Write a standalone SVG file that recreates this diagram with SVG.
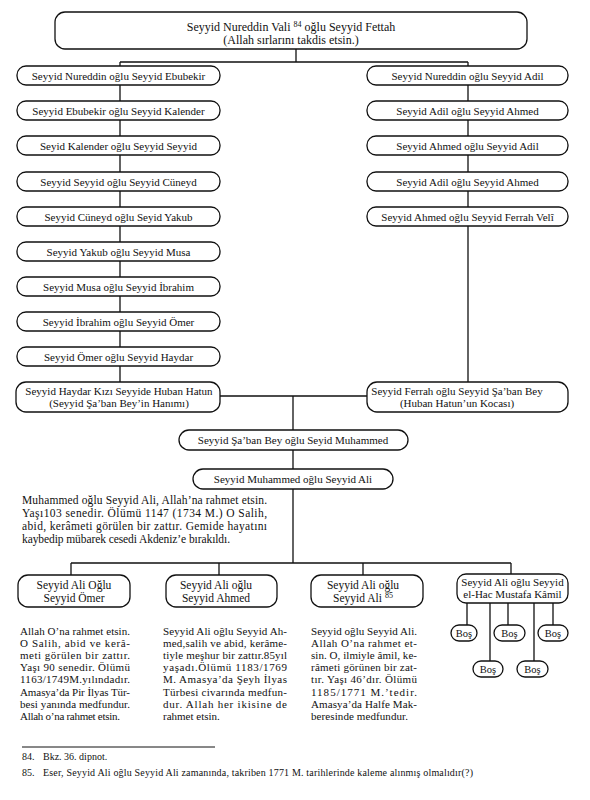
<svg xmlns="http://www.w3.org/2000/svg" width="590" height="800" viewBox="0 0 590 800">
<style>
.bx{fill:#fff;stroke:#111;stroke-width:1.3}
.ln{fill:none;stroke:#111;stroke-width:1.3}
text{font-family:"Liberation Serif","Times New Roman",serif;fill:#111}
.n{font-size:11px;text-anchor:middle}
.b{font-size:12px;text-anchor:middle}
.c{font-size:11.5px;text-anchor:middle}
.s{font-size:10.5px;text-anchor:middle}
.p{font-size:11.5px}
.q{font-size:11px}
.f{font-size:10px}
.sup{font-size:8px}
</style>
<rect width="590" height="800" fill="#fff"/>
<g id="connectors">
<path class="ln" d="M296 49V62M120 62H468M120 62V382M468 62V382M220 396H367M293 396V563M71 563H511M71 563V575M219 563V575M363 563V575M511 563V574"/>
<path class="ln" d="M467 603V625M490 603V661M508 603V625M534 603V661M553 603V625"/>
</g>
<g id="root"><rect class="bx" x="55" y="12" width="472" height="37" rx="10"/>
<text class="b" x="291" y="31">Seyyid Nureddin Vali <tspan class="sup" dy="-4">84</tspan><tspan dy="4"> oğlu Seyyid Fettah</tspan></text>
<text class="b" x="291" y="44">(Allah sırlarını takdis etsin.)</text></g>
<g id="L1"><rect class="bx" x="17" y="66" width="203" height="19" rx="9"/><text class="n" x="118.5" y="79.5">Seyyid Nureddin oğlu Seyyid Ebubekir</text></g>
<g id="L2"><rect class="bx" x="17" y="101" width="203" height="19" rx="9"/><text class="n" x="118.5" y="114.5">Seyyid Ebubekir oğlu  Seyyid  Kalender</text></g>
<g id="L3"><rect class="bx" x="17" y="136" width="203" height="19" rx="9"/><text class="n" x="118.5" y="149.5">Seyid Kalender oğlu Seyyid Seyyid</text></g>
<g id="L4"><rect class="bx" x="17" y="172" width="203" height="19" rx="9"/><text class="n" x="118.5" y="185.5">Seyyid Seyyid oğlu Seyyid Cüneyd</text></g>
<g id="L5"><rect class="bx" x="17" y="207" width="203" height="19" rx="9"/><text class="n" x="118.5" y="220.5">Seyyid Cüneyd oğlu Seyid Yakub</text></g>
<g id="L6"><rect class="bx" x="17" y="242" width="203" height="19" rx="9"/><text class="n" x="118.5" y="255.5">Seyyid Yakub oğlu Seyyid Musa</text></g>
<g id="L7"><rect class="bx" x="17" y="277" width="203" height="19" rx="9"/><text class="n" x="118.5" y="290.5">Seyyid Musa oğlu Seyyid İbrahim</text></g>
<g id="L8"><rect class="bx" x="17" y="312" width="203" height="19" rx="9"/><text class="n" x="118.5" y="325.5">Seyyid İbrahim oğlu Seyyid Ömer</text></g>
<g id="L9"><rect class="bx" x="17" y="347" width="203" height="19" rx="9"/><text class="n" x="118.5" y="360.5">Seyyid Ömer oğlu Seyyid Haydar</text></g>
<g id="L10"><rect class="bx" x="16" y="382" width="204" height="30" rx="10"/>
<text class="n" x="119" y="394.5">Seyyid Haydar Kızı Seyyide Huban Hatun</text>
<text class="n" x="119" y="406.5">(Seyyid Şa’ban Bey’in Hanımı)</text></g>
<g id="R1"><rect class="bx" x="367" y="66" width="201" height="19" rx="9"/><text class="n" x="467.5" y="79.5">Seyyid Nureddin oğlu Seyyid Adil</text></g>
<g id="R2"><rect class="bx" x="367" y="101" width="201" height="19" rx="9"/><text class="n" x="467.5" y="114.5">Seyyid Adil oğlu Seyyid Ahmed</text></g>
<g id="R3"><rect class="bx" x="367" y="136" width="201" height="19" rx="9"/><text class="n" x="467.5" y="149.5">Seyyid Ahmed oğlu Seyyid Adil</text></g>
<g id="R4"><rect class="bx" x="367" y="172" width="201" height="19" rx="9"/><text class="n" x="467.5" y="185.5">Seyyid Adil oğlu Seyyid Ahmed</text></g>
<g id="R5"><rect class="bx" x="367" y="207" width="201" height="19" rx="9"/><text class="n" x="467.5" y="220.5">Seyyid Ahmed oğlu Seyyid Ferrah Velî</text></g>
<g id="R6"><rect class="bx" x="367" y="382" width="201" height="30" rx="10"/>
<text class="n" x="457" y="394.5">Seyyid Ferrah oğlu Seyyid Şa’ban Bey</text>
<text class="n" x="457" y="406.5">(Huban Hatun’un Kocası)</text></g>
<g id="M1"><rect class="bx" x="179" y="430" width="229" height="20" rx="10"/><text class="n" x="293" y="444">Seyyid Şa’ban Bey oğlu Seyid Muhammed</text></g>
<g id="M2"><rect class="bx" x="193" y="469" width="200" height="20" rx="10"/><text class="n" x="293" y="483">Seyyid Muhammed oğlu Seyyid Ali</text></g>
<g id="note-ali" class="p">
<text x="22" y="504" textLength="245" lengthAdjust="spacing">Muhammed oğlu  Seyyid Ali, Allah’na rahmet etsin.</text>
<text x="22" y="517" textLength="245" lengthAdjust="spacing">Yaşı103 senedir. Ölümü 1147 (1734 M.) O Salih,</text>
<text x="22" y="530" textLength="245" lengthAdjust="spacing">abid, kerâmeti görülen bir zattır. Gemide hayatını</text>
<text x="22" y="543" textLength="208" lengthAdjust="spacing">kaybedip mübarek cesedi Akdeniz’e bırakıldı.</text>
</g>
<g id="C1"><rect class="bx" x="18" y="575" width="112" height="32" rx="10"/>
<text class="c" x="74" y="589">Seyyid Ali Oğlu</text><text class="c" x="74" y="602">Seyyid Ömer</text></g>
<g id="C2"><rect class="bx" x="166" y="575" width="111" height="32" rx="10"/>
<text class="c" x="216" y="589">Seyyid Ali oğlu</text><text class="c" x="216" y="602">Seyyid Ahmed</text></g>
<g id="C3"><rect class="bx" x="311" y="575" width="112" height="32" rx="10"/>
<text class="c" x="363" y="589">Seyyid Ali oğlu</text><text class="c" x="363" y="602">Seyyid Ali <tspan class="sup" dy="-4">85</tspan></text></g>
<g id="C4"><rect class="bx" x="457" y="574" width="111" height="29" rx="9"/>
<text class="n" x="512.5" y="586">Seyyid Ali oğlu Seyyid</text><text class="n" x="512.5" y="598">el-Hac Mustafa Kâmil</text></g>
<g id="bos1"><rect class="bx" x="451" y="625" width="26" height="16" rx="8"/><text class="s" x="464" y="637">Boş</text></g>
<g id="bos2"><rect class="bx" x="494" y="625" width="31" height="16" rx="8"/><text class="s" x="509.5" y="637">Boş</text></g>
<g id="bos3"><rect class="bx" x="538" y="625" width="30" height="16" rx="8"/><text class="s" x="553" y="637">Boş</text></g>
<g id="bos4"><rect class="bx" x="473" y="661" width="30" height="16" rx="8"/><text class="s" x="488" y="673">Boş</text></g>
<g id="bos5"><rect class="bx" x="517" y="661" width="31" height="16" rx="8"/><text class="s" x="532.5" y="673">Boş</text></g>
<g id="note-omer" class="q">
<text x="20" y="635" textLength="110" lengthAdjust="spacing">Allah O’na rahmet etsin.</text>
<text x="20" y="647" textLength="110" lengthAdjust="spacing">O Salih, abid ve kerâ-</text>
<text x="20" y="659" textLength="110" lengthAdjust="spacing">meti görülen bir zattır.</text>
<text x="20" y="671" textLength="110" lengthAdjust="spacing">Yaşı 90 senedir. Ölümü</text>
<text x="20" y="683" textLength="110" lengthAdjust="spacing">1163/1749M.yılındadır.</text>
<text x="20" y="696" textLength="110" lengthAdjust="spacing">Amasya’da Pir İlyas Tür-</text>
<text x="20" y="708" textLength="110" lengthAdjust="spacing">besi yanında medfundur.</text>
<text x="20" y="720" textLength="100" lengthAdjust="spacing">Allah o’na rahmet etsin.</text>
</g>
<g id="note-ahmed" class="q">
<text x="163" y="635" textLength="124" lengthAdjust="spacing">Seyyid Ali oğlu Seyyid Ah-</text>
<text x="163" y="647" textLength="124" lengthAdjust="spacing">med,salih ve abid, kerâme-</text>
<text x="163" y="659" textLength="124" lengthAdjust="spacing">tiyle meşhur bir zattır.85yıl</text>
<text x="163" y="671" textLength="124" lengthAdjust="spacing">yaşadı.Ölümü 1183/1769</text>
<text x="163" y="683" textLength="124" lengthAdjust="spacing">M. Amasya’da Şeyh İlyas</text>
<text x="163" y="696" textLength="124" lengthAdjust="spacing">Türbesi civarında medfun-</text>
<text x="163" y="708" textLength="124" lengthAdjust="spacing">dur. Allah her ikisine de</text>
<text x="163" y="720">rahmet etsin.</text>
</g>
<g id="note-ali2" class="q">
<text x="311" y="635" textLength="106" lengthAdjust="spacing">Seyyid oğlu Seyyid Ali.</text>
<text x="311" y="647" textLength="106" lengthAdjust="spacing">Allah O’na rahmet et-</text>
<text x="311" y="659" textLength="106" lengthAdjust="spacing">sin. O, ilmiyle âmil, ke-</text>
<text x="311" y="671" textLength="106" lengthAdjust="spacing">râmeti görünen bir zat-</text>
<text x="311" y="683" textLength="106" lengthAdjust="spacing">tır. Yaşı 46’dır. Ölümü</text>
<text x="311" y="696" textLength="106" lengthAdjust="spacing">1185/1771  M.’tedir.</text>
<text x="311" y="708" textLength="106" lengthAdjust="spacing">Amasya’da Halfe Mak-</text>
<text x="311" y="720" textLength="97" lengthAdjust="spacing">beresinde medfundur.</text>
</g>
<g id="footnotes" class="f">
<line x1="22" y1="747" x2="215" y2="747" stroke="#111" stroke-width="1"/>
<text x="22" y="760">84.</text><text x="43" y="760">Bkz. 36. dipnot.</text>
<text x="22" y="776">85.</text><text x="43" y="776" textLength="430" lengthAdjust="spacing">Eser, Seyyid  Ali oğlu Seyyid Ali zamanında, takriben 1771 M. tarihlerinde kaleme alınmış  olmalıdır(?)</text>
</g>
</svg>
